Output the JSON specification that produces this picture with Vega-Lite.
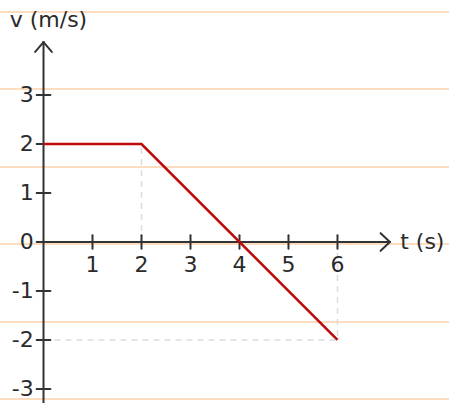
{
  "$schema": "https://vega.github.io/schema/vega-lite/v6.json",
  "width": 449,
  "height": 403,
  "padding": 0,
  "autosize": {"type": "none"},
  "background": "white",
  "config": {"view": {"stroke": null}},
  "datasets": {
    "paper": [{"y": 4.694}, {"y": 3.122}, {"y": 1.531}, {"y": -0.041}, {"y": -1.633}, {"y": -3.204}],
    "guides": [
      {"x": 2, "y": 0, "x2": 2, "y2": 2},
      {"x": 6, "y": 0, "x2": 6, "y2": -2},
      {"x": 0, "y": -2, "x2": 6, "y2": -2}
    ],
    "axes": [
      {"x": 0, "y": -3.35, "x2": 0, "y2": 4.08},
      {"x": 0, "y": 0, "x2": 7.07, "y2": 0},
      {"x": 6.88, "y": 0.18, "x2": 7.07, "y2": 0},
      {"x": 6.88, "y": -0.18, "x2": 7.07, "y2": 0},
      {"x": -0.17, "y": 3.88, "x2": 0, "y2": 4.08},
      {"x": 0.17, "y": 3.88, "x2": 0, "y2": 4.08},
      {"x": 1, "y": -0.14, "x2": 1, "y2": 0.14},
      {"x": 2, "y": -0.14, "x2": 2, "y2": 0.14},
      {"x": 3, "y": -0.14, "x2": 3, "y2": 0.14},
      {"x": 4, "y": -0.14, "x2": 4, "y2": 0.14},
      {"x": 5, "y": -0.14, "x2": 5, "y2": 0.14},
      {"x": 6, "y": -0.14, "x2": 6, "y2": 0.14},
      {"x": -0.14, "y": 3, "x2": 0.14, "y2": 3},
      {"x": -0.14, "y": 2, "x2": 0.14, "y2": 2},
      {"x": -0.14, "y": 1, "x2": 0.14, "y2": 1},
      {"x": -0.14, "y": 0, "x2": 0, "y2": 0},
      {"x": -0.14, "y": -1, "x2": 0.14, "y2": -1},
      {"x": -0.14, "y": -2, "x2": 0.14, "y2": -2},
      {"x": -0.14, "y": -3, "x2": 0.14, "y2": -3}
    ],
    "velocity": [{"x": 0, "y": 2}, {"x": 2, "y": 2}, {"x": 6, "y": -2}],
    "xlabels": [
      {"x": 1, "y": -0.47, "label": "1"},
      {"x": 2, "y": -0.47, "label": "2"},
      {"x": 3, "y": -0.47, "label": "3"},
      {"x": 4, "y": -0.47, "label": "4"},
      {"x": 5, "y": -0.47, "label": "5"},
      {"x": 6, "y": -0.47, "label": "6"}
    ],
    "ylabels": [
      {"x": -0.2, "y": 3, "label": "3"},
      {"x": -0.2, "y": 2, "label": "2"},
      {"x": -0.2, "y": 1, "label": "1"},
      {"x": -0.2, "y": 0, "label": "0"},
      {"x": -0.2, "y": -1, "label": "-1"},
      {"x": -0.2, "y": -2, "label": "-2"},
      {"x": -0.2, "y": -3, "label": "-3"}
    ],
    "titles": [
      {"x": 7.28, "y": 0, "label": "t (s)"},
      {"x": -0.69, "y": 4.53, "label": "v (m/s)"}
    ]
  },
  "layer": [
    {
      "data": {"name": "paper"},
      "mark": {"type": "rule", "color": "#fddcbf", "strokeWidth": 2},
      "encoding": {
        "y": {"field": "y", "type": "quantitative", "axis": null, "scale": {"domain": [-3.286, 4.939], "nice": false, "zero": false}}
      }
    },
    {
      "data": {"name": "guides"},
      "mark": {"type": "rule", "color": "#dcdcdc", "strokeWidth": 1.5, "strokeDash": [6, 5]},
      "encoding": {
        "x": {"field": "x", "type": "quantitative", "axis": null, "scale": {"domain": [-0.888, 8.276], "nice": false, "zero": false}},
        "y": {"field": "y", "type": "quantitative", "axis": null, "scale": {"domain": [-3.286, 4.939], "nice": false, "zero": false}},
        "x2": {"field": "x2"},
        "y2": {"field": "y2"}
      }
    },
    {
      "data": {"name": "axes"},
      "mark": {"type": "rule", "color": "#333333", "strokeWidth": 2, "strokeCap": "round"},
      "encoding": {
        "x": {"field": "x", "type": "quantitative", "axis": null, "scale": {"domain": [-0.888, 8.276], "nice": false, "zero": false}},
        "y": {"field": "y", "type": "quantitative", "axis": null, "scale": {"domain": [-3.286, 4.939], "nice": false, "zero": false}},
        "x2": {"field": "x2"},
        "y2": {"field": "y2"}
      }
    },
    {
      "data": {"name": "velocity"},
      "mark": {"type": "line", "color": "#bf0a0a", "strokeWidth": 2.5},
      "encoding": {
        "x": {"field": "x", "type": "quantitative", "axis": null, "scale": {"domain": [-0.888, 8.276], "nice": false, "zero": false}},
        "y": {"field": "y", "type": "quantitative", "axis": null, "scale": {"domain": [-3.286, 4.939], "nice": false, "zero": false}}
      }
    },
    {
      "data": {"name": "xlabels"},
      "mark": {"type": "text", "font": "DejaVu Sans", "fontSize": 22, "color": "#2a2a2a", "align": "center", "baseline": "middle"},
      "encoding": {
        "x": {"field": "x", "type": "quantitative", "axis": null, "scale": {"domain": [-0.888, 8.276], "nice": false, "zero": false}},
        "y": {"field": "y", "type": "quantitative", "axis": null, "scale": {"domain": [-3.286, 4.939], "nice": false, "zero": false}},
        "text": {"field": "label"}
      }
    },
    {
      "data": {"name": "ylabels"},
      "mark": {"type": "text", "font": "DejaVu Sans", "fontSize": 22, "color": "#2a2a2a", "align": "right", "baseline": "middle"},
      "encoding": {
        "x": {"field": "x", "type": "quantitative", "axis": null, "scale": {"domain": [-0.888, 8.276], "nice": false, "zero": false}},
        "y": {"field": "y", "type": "quantitative", "axis": null, "scale": {"domain": [-3.286, 4.939], "nice": false, "zero": false}},
        "text": {"field": "label"}
      }
    },
    {
      "data": {"name": "titles"},
      "mark": {"type": "text", "font": "DejaVu Sans", "fontSize": 22, "color": "#2a2a2a", "align": "left", "baseline": "middle"},
      "encoding": {
        "x": {"field": "x", "type": "quantitative", "axis": null, "scale": {"domain": [-0.888, 8.276], "nice": false, "zero": false}},
        "y": {"field": "y", "type": "quantitative", "axis": null, "scale": {"domain": [-3.286, 4.939], "nice": false, "zero": false}},
        "text": {"field": "label"}
      }
    }
  ]
}
